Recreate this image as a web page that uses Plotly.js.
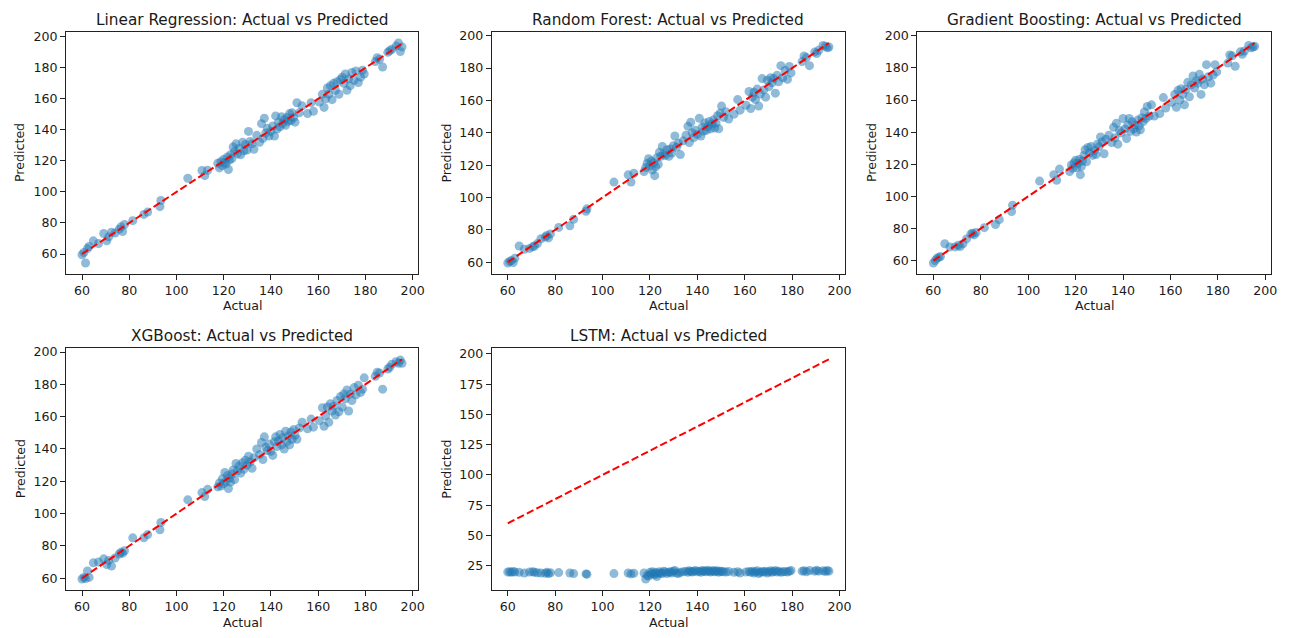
<!DOCTYPE html>
<html>
<head>
<meta charset="utf-8">
<script src="https://cdn.plot.ly/plotly-3.0.1.min.js"></script>
<style>
html,body{margin:0;padding:0;background:#fff;}
#chart{width:1290px;height:638px;}
</style>
</head>
<body>
<div id="chart"></div>
<script>
// ---------- data ----------
const modelNames = ["Linear Regression", "Random Forest", "Gradient Boosting", "XGBoost", "LSTM"];

const actual = [
  60.0, 60.8, 61.5, 62.3, 63.0, 64.8, 67.0, 69.2, 70.5, 71.3, 72.5, 74.0, 75.8, 76.5, 77.2, 78.0, 81.5, 86.2, 87.8, 93.0, 93.4,
  104.8, 110.8, 112.0, 113.2,
  117.5, 118.2, 118.8, 119.4, 120.0, 120.5, 121.0, 121.6, 122.0, 122.4, 122.9, 123.5, 124.0, 124.6, 125.2, 125.8, 126.5, 127.2, 128.0, 128.6, 129.2, 129.9, 130.5, 131.2, 132.0, 132.8,
  134.0, 135.2, 136.0, 136.6, 137.2, 137.8, 138.5, 139.2, 140.0, 140.8, 141.5, 142.0, 142.6, 143.2, 143.8, 144.5, 145.0, 145.6, 146.2, 146.8, 147.3, 147.9, 148.5, 149.0, 149.6, 150.2, 151.0, 152.0, 153.2,
  155.5, 157.0, 158.0, 160.5, 161.8, 162.5, 163.2, 163.9, 164.5, 165.2, 165.9, 166.5, 167.3, 168.0, 168.8, 169.5, 170.2, 170.9, 171.5, 172.2, 172.9, 173.6, 174.3, 175.2, 176.0, 177.0, 178.0, 178.8, 179.5,
  184.2, 185.0, 186.0, 187.3, 189.5, 190.3, 191.2, 193.0, 194.0, 194.8, 195.5
];

const predLinear = [
  59.5, 61.0, 54.2, 63.5, 64.8, 68.5, 66.8, 73.2, 68.5, 71.0, 74.0, 73.5, 76.0, 77.5, 74.5, 79.0, 81.5, 85.5, 87.0, 90.5, 94.5,
  108.8, 113.8, 110.5, 114.0,
  118.5, 115.5, 119.5, 117.0, 121.0, 119.0, 118.0, 122.5, 114.5, 120.5, 124.0, 121.5, 129.0, 126.0, 131.0, 124.5, 128.0, 124.0, 132.0, 126.5, 130.5, 127.0, 139.0, 132.5, 131.0, 127.5,
  136.5, 132.0, 144.0, 134.5, 147.5, 138.0, 141.0, 136.0, 139.0, 142.5, 136.0, 149.0, 140.5, 145.0, 142.0, 148.5, 144.0, 146.5, 143.0, 148.0, 145.5, 150.5, 146.0, 151.0, 148.0, 145.0, 157.5, 151.0, 155.5,
  150.5, 157.5, 152.0, 158.0, 163.0, 154.5, 160.0, 167.0, 163.0, 168.5, 159.5, 170.0, 165.5, 171.0, 163.0, 172.5, 174.0, 170.0, 176.0, 165.5, 173.0, 168.5, 177.0, 172.0, 178.0, 170.5, 174.0, 178.5, 176.0,
  184.0, 186.5, 185.5, 180.5, 190.0, 191.0, 192.0, 194.0, 196.0, 190.5, 193.5
];

const predForest = [
  59.5, 60.5, 61.0, 59.8, 62.5, 70.0, 68.0, 68.5, 69.5, 70.0, 71.5, 74.5, 75.5, 76.5, 75.0, 77.5, 81.5, 82.5, 86.5, 91.5, 93.0,
  109.5, 114.0, 109.5, 115.0,
  116.0, 118.5, 121.0, 124.0, 119.5, 122.5, 117.0, 121.5, 113.5, 119.0, 124.5, 120.5, 128.0, 125.5, 131.5, 127.0, 126.0, 129.5, 125.5, 130.0, 127.5, 132.0, 138.0, 131.0, 133.5, 126.5,
  135.0, 138.5, 144.0, 134.0, 146.5, 140.0, 137.0, 141.5, 139.0, 149.0, 138.0, 143.5, 141.0, 146.0, 141.5, 144.0, 147.0, 142.5, 145.5, 148.0, 143.0, 146.0, 150.5, 142.5, 152.0, 156.5, 149.5, 153.0, 148.5,
  151.5, 160.5, 154.0, 157.0, 165.5, 155.0, 162.0, 165.0, 160.5, 167.0, 156.5, 164.0, 173.5, 166.5, 162.0, 172.5, 168.5, 174.0, 171.0, 173.5, 164.5, 175.5, 171.5, 181.5, 174.0, 178.5, 173.0, 181.0, 177.0,
  184.0, 187.5, 186.5, 181.5, 190.0, 189.0, 191.0, 194.0, 193.5, 192.5, 193.0
];

const predBoosting = [
  58.5, 60.0, 61.5, 62.0, 62.5, 70.5, 68.5, 68.5, 69.5, 68.8, 70.5, 73.5, 76.5, 77.0, 76.0, 77.5, 80.5, 82.5, 85.5, 90.5, 94.5,
  109.5, 113.5, 110.0, 117.0,
  115.5, 119.5, 117.5, 121.0, 122.5, 118.0, 120.5, 123.0, 113.5, 118.5, 122.0, 125.5, 129.0, 121.5, 130.5, 127.0, 131.0, 125.5, 128.5, 126.0, 132.5, 131.0, 137.0, 134.0, 126.5, 135.5,
  138.0, 133.5, 143.0, 136.5, 145.5, 132.5, 141.0, 139.5, 148.5, 142.0, 136.0, 144.5, 148.5, 140.5, 146.5, 142.0, 144.5, 140.0, 147.5, 144.0, 141.5, 149.0, 146.5, 152.5, 148.5, 156.0, 150.0, 157.0, 150.0,
  151.5, 161.5, 155.0, 158.5, 163.5, 155.5, 166.0, 160.0, 167.0, 163.5, 157.0, 166.5, 171.0, 162.0, 169.5, 175.0, 167.5, 172.0, 170.5, 176.0, 163.5, 173.0, 169.5, 182.0, 174.5, 170.5, 175.5, 182.0, 177.5,
  183.0, 188.0, 187.5, 181.0, 190.0, 188.5, 190.5, 194.0, 192.5, 193.0, 193.5
];

const predXGB = [
  59.5, 60.5, 59.8, 64.5, 60.5, 69.5, 70.0, 72.0, 68.5, 71.0, 67.5, 72.5, 75.0, 76.0, 75.5, 77.0, 85.0, 85.0, 87.0, 90.0, 94.5,
  108.5, 113.0, 110.5, 115.0,
  116.5, 119.0, 117.0, 121.5, 118.5, 125.5, 120.0, 123.5, 115.5, 122.0, 119.5, 124.5, 127.0, 121.0, 131.0, 126.5, 129.5, 125.0, 131.5, 127.5, 133.0, 130.0, 135.5, 132.0, 128.0, 134.5,
  140.0, 136.5, 144.0, 133.5, 147.5, 141.0, 139.0, 143.0, 138.5, 136.0, 144.5, 147.5, 141.5, 145.0, 149.0, 142.5, 147.0, 140.0, 151.0, 144.5, 148.0, 142.5, 150.5, 146.0, 152.0, 148.5, 146.0, 153.0, 156.5,
  152.5, 158.5, 153.5, 157.5, 165.5, 154.0, 160.5, 166.0, 156.5, 168.0, 163.5, 166.5, 161.0, 170.0, 163.0, 172.5, 166.0, 174.0, 171.0, 176.5, 163.5, 174.0, 170.0, 178.0, 173.5, 179.5, 175.0, 177.0, 184.0,
  185.0, 187.5, 187.0, 177.0, 189.5, 190.5, 192.5, 194.0, 193.0, 195.0, 193.0
];

const predLSTM = [
  19.8, 20.0, 19.5, 20.2, 19.7, 19.5, 19.0, 19.8, 20.0, 19.5, 19.2, 19.0, 18.8, 19.5, 18.5, 19.2, 19.3, 19.0, 18.5, 18.2, 18.0,
  18.5, 19.0, 18.2, 18.8,
  19.0, 14.0, 17.0, 16.5, 19.5, 18.0, 20.0, 18.5, 17.5, 19.5, 16.0, 18.5, 20.0, 19.0, 18.5, 20.5, 19.8, 18.5, 19.5, 20.0, 19.0, 20.5, 21.0, 19.0, 18.5, 19.5,
  20.0, 20.5, 19.5, 20.8, 20.2, 19.8, 20.5, 21.0, 20.0, 20.5, 19.5, 21.0, 20.2, 20.8, 20.0, 21.2, 20.5, 19.8, 20.5, 21.0, 20.0, 20.5, 20.8, 19.5, 20.2, 20.5, 20.0, 19.8, 20.2,
  19.5, 20.0, 19.0, 19.8, 20.2, 19.5, 20.5, 19.0, 20.0, 20.8, 18.5, 19.5, 20.2, 19.8, 20.5, 19.0, 20.0, 20.8, 19.5, 20.2, 21.0, 19.8, 20.5, 19.5, 20.0, 20.2, 19.8, 20.5, 21.0,
  20.5, 20.8, 20.0, 21.0, 20.5, 21.2, 20.5, 20.8, 20.2, 21.0, 20.5
];

const xTicks = [60, 80, 100, 120, 140, 160, 180, 200];
const yTicksA = [60, 80, 100, 120, 140, 160, 180, 200];
const yTicksLSTM = [25, 50, 75, 100, 125, 150, 175, 200];

// ---------- layout geometry (pixels) ----------
const W = 1290, H = 638;
const panels = [
  {x0: 66,    x1: 418,    y0: 32,    y1: 274},
  {x0: 491.7, x1: 845,    y0: 32,    y1: 274},
  {x0: 917.3, x1: 1270.7, y0: 32,    y1: 274},
  {x0: 66,    x1: 418,    y0: 348.3, y1: 590},
  {x0: 491.7, x1: 845,    y0: 348.3, y1: 590}
];
const ylabX = [20, 446.5, 872, 20, 446.5];
const preds = [predLinear, predForest, predBoosting, predXGB, predLSTM];
const yTickSets = [yTicksA, yTicksA, yTicksA, yTicksA, yTicksLSTM];

const FONT = "DejaVu Sans, Liberation Sans, sans-serif";
const BLUE = "#1f77b4";
const TXT = "#1a1a1a";
const FS = 12.6, TFS = 15.3;

function padRange(vals) {
  const mn = Math.min(...vals), mx = Math.max(...vals);
  const m = (mx - mn) * 0.05;
  return [mn - m, mx + m];
}

const aMin = Math.min(...actual), aMax = Math.max(...actual);
const traces = [];
const layout = {
  width: W, height: H,
  margin: {l: 0, r: 0, t: 0, b: 0},
  paper_bgcolor: "#ffffff",
  plot_bgcolor: "#ffffff",
  showlegend: false,
  font: {family: FONT, size: FS, color: TXT},
  annotations: []
};

panels.forEach((p, i) => {
  const n = i + 1;
  const xa = n === 1 ? "x" : "x" + n;
  const ya = n === 1 ? "y" : "y" + n;
  traces.push({
    type: "scatter", mode: "markers",
    x: actual, y: preds[i],
    xaxis: xa, yaxis: ya,
    marker: {color: BLUE, size: 9, opacity: 0.5, line: {width: 0}},
    hoverinfo: "skip"
  });
  traces.push({
    type: "scatter", mode: "lines",
    x: [aMin, aMax], y: [aMin, aMax],
    xaxis: xa, yaxis: ya,
    line: {color: "red", width: 2, dash: "7.5px,3.2px"},
    hoverinfo: "skip"
  });
  const yr = padRange(preds[i].concat([aMin, aMax]));
  const xr = padRange(actual);
  const common = {
    showgrid: false, zeroline: false,
    showline: true, linecolor: "#222", linewidth: 1, mirror: true,
    ticks: "outside", ticklen: 5, tickwidth: 1, tickcolor: "#222",
    tickfont: {family: FONT, size: FS, color: TXT},
    tickmode: "array", fixedrange: true
  };
  layout["xaxis" + (n === 1 ? "" : n)] = Object.assign({}, common, {
    domain: [p.x0 / W, p.x1 / W],
    anchor: ya, range: xr,
    tickvals: xTicks, ticktext: xTicks.map(String)
  });
  layout["yaxis" + (n === 1 ? "" : n)] = Object.assign({}, common, {
    domain: [1 - p.y1 / H, 1 - p.y0 / H],
    anchor: xa, range: yr,
    tickvals: yTickSets[i], ticktext: yTickSets[i].map(String)
  });
  const cx = (p.x0 + p.x1) / 2 / W;
  layout.annotations.push({
    xref: "paper", yref: "paper", x: cx, y: 1 - p.y0 / H,
    xanchor: "center", yanchor: "bottom", yshift: 1,
    text: modelNames[i] + ": Actual vs Predicted", showarrow: false,
    font: {family: FONT, size: TFS, color: TXT}
  });
  layout.annotations.push({
    xref: "paper", yref: "paper", x: cx, y: 1 - (p.y1 + 32) / H,
    xanchor: "center", yanchor: "middle",
    text: "Actual", showarrow: false,
    font: {family: FONT, size: FS, color: TXT}
  });
  layout.annotations.push({
    xref: "paper", yref: "paper", x: ylabX[i] / W, y: 1 - (p.y0 + p.y1) / 2 / H,
    xanchor: "center", yanchor: "middle", textangle: -90,
    text: "Predicted", showarrow: false,
    font: {family: FONT, size: FS, color: TXT}
  });
});

Plotly.newPlot("chart", traces, layout, {displayModeBar: false, staticPlot: true});
</script>
</body>
</html>
